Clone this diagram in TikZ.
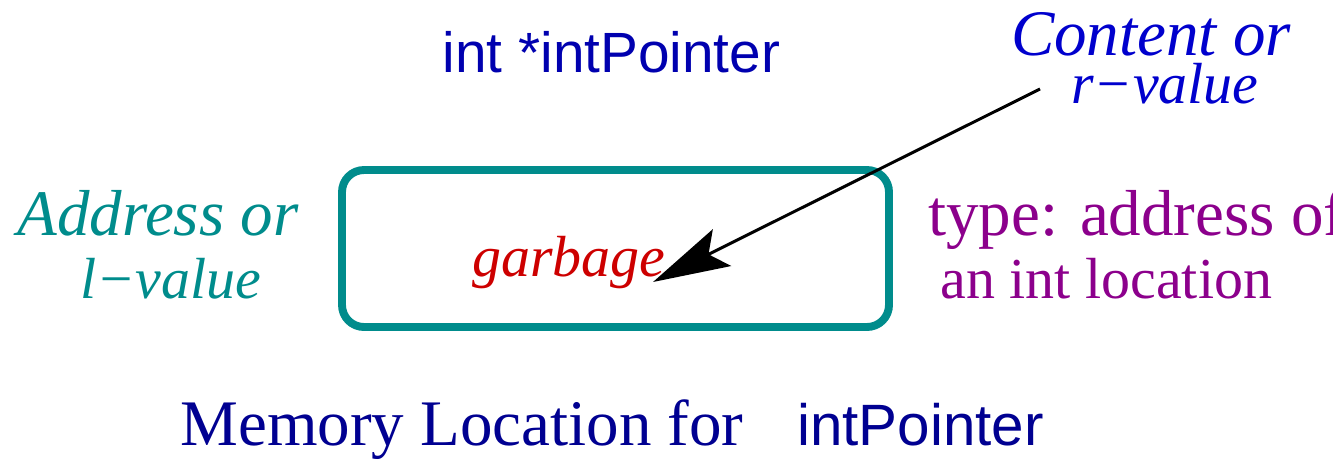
\documentclass[tikz,border=0pt]{standalone}
\usepackage{fontspec}
\setmainfont{Liberation Serif}
\setsansfont{Liberation Sans}
\usetikzlibrary{arrows.meta}
\definecolor{navyblue}{RGB}{0,0,145}
\definecolor{declblue}{RGB}{0,0,175}
\definecolor{brightblue}{RGB}{0,0,205}
\definecolor{tealc}{RGB}{0,140,140}
\definecolor{redc}{RGB}{205,0,0}
\definecolor{purplec}{RGB}{140,0,140}
\tikzset{
  lbl/.style={inner sep=0pt, anchor=base},
  cell/.style={draw=tealc, line width=4.5pt, rounded corners=12.5pt},
  ptr/.style={line width=1.7pt, -{Stealth[length=43.8pt, width=23.3pt, inset=8.5pt]}}
}
\begin{document}
\begin{tikzpicture}[x=0.02cm, y=-0.02cm]
\useasboundingbox (0,0) rectangle (1333,461);
\draw[cell] (342,170) rectangle (889,327);
\node[lbl, text=declblue, font=\sffamily\fontsize{32.3}{36}\selectfont] (decl) at (611.5,72) {int *intPointer};
\node[lbl, text=brightblue, font=\itshape\fontsize{37}{40}\selectfont] (content) at (1151,55) {Content or};
\node[lbl, text=brightblue, font=\itshape\fontsize{33}{36}\selectfont] (rvalue) at (1165,103) {r−value};
\node[lbl, text=tealc, font=\itshape\fontsize{37}{40}\selectfont] (addr) at (158,235) {Address or};
\node[lbl, text=tealc, font=\itshape\fontsize{33}{36}\selectfont] (lvalue) at (171,298) {l−value};
\node[lbl, text=redc, font=\itshape\fontsize{33}{36}\selectfont] (garb) at (569,276) {garbage};
\node[lbl, anchor=base west, text=purplec, font=\fontsize{37}{40}\selectfont] (type1) at (928,235) {type: address of};
\node[lbl, anchor=base west, text=purplec, font=\fontsize{33}{36}\selectfont] (type2) at (940,298) {an int location};
\node[lbl, anchor=base west, text=navyblue, font=\fontsize{37}{40}\selectfont] (mem) at (180,445) {Memory Location for};
\node[lbl, anchor=base west, text=navyblue, font=\sffamily\fontsize{33.2}{36}\selectfont] (ip) at (797,445) {intPointer};
\coordinate (start) at (1040,89);
\coordinate (tip) at (653,282);
\draw[ptr] (start) -- (tip);
\end{tikzpicture}
\end{document}
